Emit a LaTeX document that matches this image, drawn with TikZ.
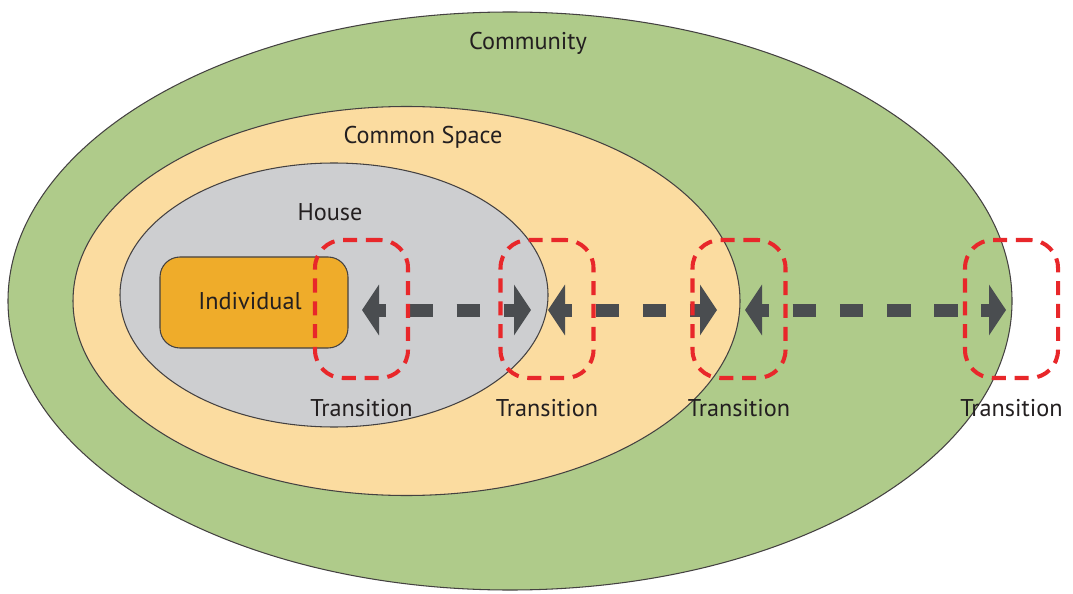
\documentclass[tikz,border=0pt]{standalone}
\usepackage{fontspec}
\setmainfont{PT Sans}
\usetikzlibrary{arrows.meta, positioning, shapes.geometric}
\definecolor{communitygreen}{RGB}{175,203,138}
\definecolor{commonpeach}{RGB}{251,220,160}
\definecolor{housegrey}{RGB}{205,206,208}
\definecolor{indivorange}{RGB}{239,172,42}
\definecolor{arrowgrey}{RGB}{74,77,80}
\definecolor{transred}{RGB}{232,39,42}
\definecolor{textdark}{RGB}{35,31,32}

\begin{document}
\begin{tikzpicture}[
    font=\fontsize{13.8}{16}\selectfont,
    text=textdark,
    zone/.style={draw=textdark!85, line width=0.6pt, ellipse, inner sep=0pt},
    person/.style={draw=textdark!85, line width=0.6pt, rounded corners=0.4cm, fill=indivorange, minimum width=3.76cm, minimum height=1.82cm},
    transbox/.style={draw=transred, line width=2.3pt, dash pattern=on 8pt off 5pt, rounded corners=0.56cm, minimum width=1.86cm, minimum height=2.76cm},
    move/.style={{Triangle[length=0.34cm, width=1cm]}-{Triangle[length=0.34cm, width=1cm]}, line width=0.26cm, color=arrowgrey, dash pattern=on 0.472cm off 0.472cm, dash phase=0.312cm},
]
\useasboundingbox (0,0) rectangle (21.46,11.86);

% Nested zones, outside in
\node[zone, fill=communitygreen, minimum width=20.08cm, minimum height=11.56cm] (community) at (10.2,5.84) {};
\node[zone, fill=commonpeach,    minimum width=13.34cm, minimum height=7.78cm]  (common)    at (8.13,5.84) {};
\node[zone, fill=housegrey,      minimum width=8.56cm,  minimum height=5.28cm]  (house)     at (6.68,5.96) {};
\node[person] (indiv) at (5.08,5.81) {};

% Zone labels
\node at (10.56,11.0) (lcommunity) {Community};
\node at (8.46,9.12)  (lcommon)    {Common Space};
\node at (6.6,7.62)   (lhouse)     {House};
\node at (5.0,5.84)   (lindiv)     {Individual};

% Arrow tips between the transitions
\coordinate (a1) at (7.24,5.66);
\coordinate (b1) at (10.62,5.66);
\coordinate (a2) at (10.96,5.66);
\coordinate (b2) at (14.34,5.66);
\coordinate (a3) at (14.9,5.66);
\coordinate (b3) at (20.12,5.66);
\draw[move] (a1) -- (b1);
\draw[move] (a2) -- (b2);
\draw[move] (a3) -- (b3);

% Transition boxes
\foreach \name/\x in {t1/7.23, t2/10.94, t3/14.78, t4/20.23} {
  \node[transbox] (\name) at (\x,5.68) {};
  \node[below=0.27cm of \name] (\name label) {Transition};
}

\end{tikzpicture}
\end{document}
